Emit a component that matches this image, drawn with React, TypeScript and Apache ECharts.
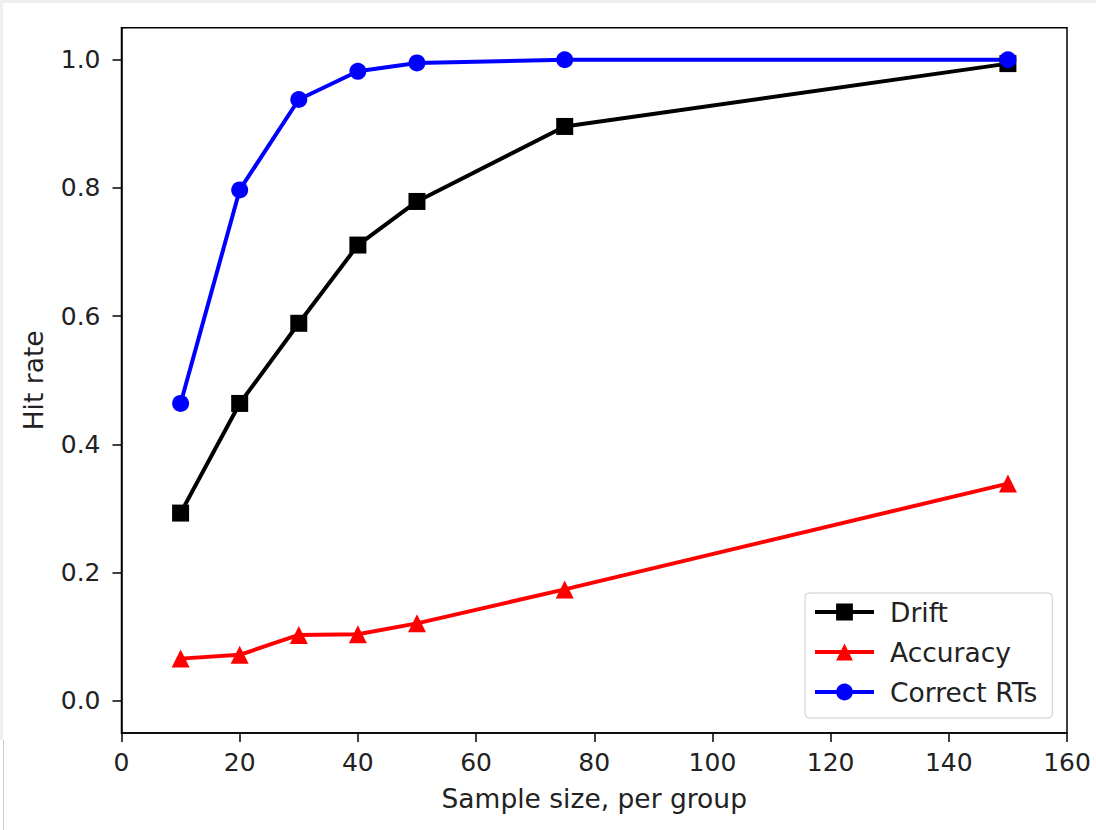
import React, { useEffect, useRef } from "react";
import * as echarts from "echarts";

const sampleSizes = [10, 20, 30, 40, 50, 75, 150];
const drift = [0.293, 0.464, 0.589, 0.711, 0.779, 0.896, 0.994];
const accuracy = [0.066, 0.072, 0.103, 0.104, 0.121, 0.174, 0.339];
const correctRTs = [0.464, 0.797, 0.938, 0.982, 0.995, 1.0, 1.0];
const yTicks = [0, 0.2, 0.4, 0.6, 0.8, 1.0];
const seriesNames = ["Drift", "Accuracy", "Correct RTs"];

const FONT = "DejaVu Sans";

export default function App() {
  const ref = useRef<HTMLDivElement>(null);
  useEffect(() => {
    if (!ref.current) return;
    const chart = echarts.init(ref.current, null, { renderer: "svg" });
    const pairs = (ys: number[]) => sampleSizes.map((x, i) => [x, ys[i]]);
    chart.setOption({
      animation: false,
      backgroundColor: "#ffffff",
      textStyle: { fontFamily: FONT },
      grid: {
        left: 121.5,
        top: 27.7,
        right: 29,
        bottom: 97,
        show: true,
        borderColor: "#000",
        borderWidth: 1.5,
        backgroundColor: "transparent",
      },
      xAxis: {
        type: "value",
        min: 0,
        max: 160,
        interval: 20,
        name: "Sample size, per group",
        nameLocation: "middle",
        nameGap: 52,
        nameTextStyle: { fontSize: 26.5, color: "#222", fontFamily: FONT },
        axisLine: { show: true, onZero: false, lineStyle: { color: "#000", width: 1.5 } },
        axisTick: { show: true, inside: false, length: 9, lineStyle: { color: "#000", width: 1.5 } },
        axisLabel: { fontSize: 25, color: "#222", margin: 17, fontFamily: FONT },
        splitLine: { show: false },
      },
      yAxis: {
        type: "value",
        min: -0.05,
        max: 1.05,
        name: "Hit rate",
        nameLocation: "middle",
        nameGap: 75,
        nameRotate: 90,
        nameTextStyle: { fontSize: 26.5, color: "#222", fontFamily: FONT },
        axisLine: { show: true, onZero: false, lineStyle: { color: "#000", width: 1.5 } },
        axisTick: {
          show: true,
          inside: false,
          length: 9,
          customValues: yTicks,
          lineStyle: { color: "#000", width: 1.5 },
        },
        axisLabel: {
          fontSize: 25,
          color: "#222",
          margin: 21,
          fontFamily: FONT,
          customValues: yTicks,
          formatter: (v: number) => v.toFixed(1),
        },
        splitLine: { show: false },
      },
      legend: {
        orient: "vertical",
        left: 805,
        top: 593,
        data: seriesNames,
        selectedMode: false,
        itemWidth: 59,
        itemHeight: 21,
        itemGap: 10,
        padding: [4, 15, 11, 8],
        backgroundColor: "rgba(255,255,255,0.8)",
        borderColor: "#cccccc",
        borderWidth: 1,
        borderRadius: 4,
        lineStyle: { width: 4 },
        textStyle: {
          fontSize: 26.5,
          color: "#222",
          fontFamily: FONT,
          lineHeight: 30,
          padding: [0, 0, 0, 11],
        },
      },
      graphic: [
        { type: "rect", shape: { x: 0, y: 0, width: 1096, height: 3 }, style: { fill: "#efefef" }, silent: true },
        { type: "rect", shape: { x: 0, y: 0, width: 3, height: 740 }, style: { fill: "#efefef" }, silent: true },
        { type: "line", shape: { x1: 3.5, y1: 740, x2: 3.5, y2: 830 }, style: { stroke: "#cfcfcf", lineWidth: 1 }, silent: true },
      ],
      series: [
        {
          name: seriesNames[0],
          type: "line",
          data: pairs(drift),
          symbol: "rect",
          symbolSize: 17,
          lineStyle: { color: "#000000", width: 4 },
          itemStyle: { color: "#000000" },
        },
        {
          name: seriesNames[1],
          type: "line",
          data: pairs(accuracy),
          symbol: "triangle",
          symbolSize: 18,
          lineStyle: { color: "#ff0000", width: 4 },
          itemStyle: { color: "#ff0000" },
        },
        {
          name: seriesNames[2],
          type: "line",
          data: pairs(correctRTs),
          symbol: "circle",
          symbolSize: 17,
          lineStyle: { color: "#0000ff", width: 4 },
          itemStyle: { color: "#0000ff" },
        },
      ],
    });
    return () => chart.dispose();
  }, []);
  return (
    <div
      ref={ref}
      style={{ position: "absolute", left: 0, top: 0, width: 1096, height: 830 }}
    />
  );
}
